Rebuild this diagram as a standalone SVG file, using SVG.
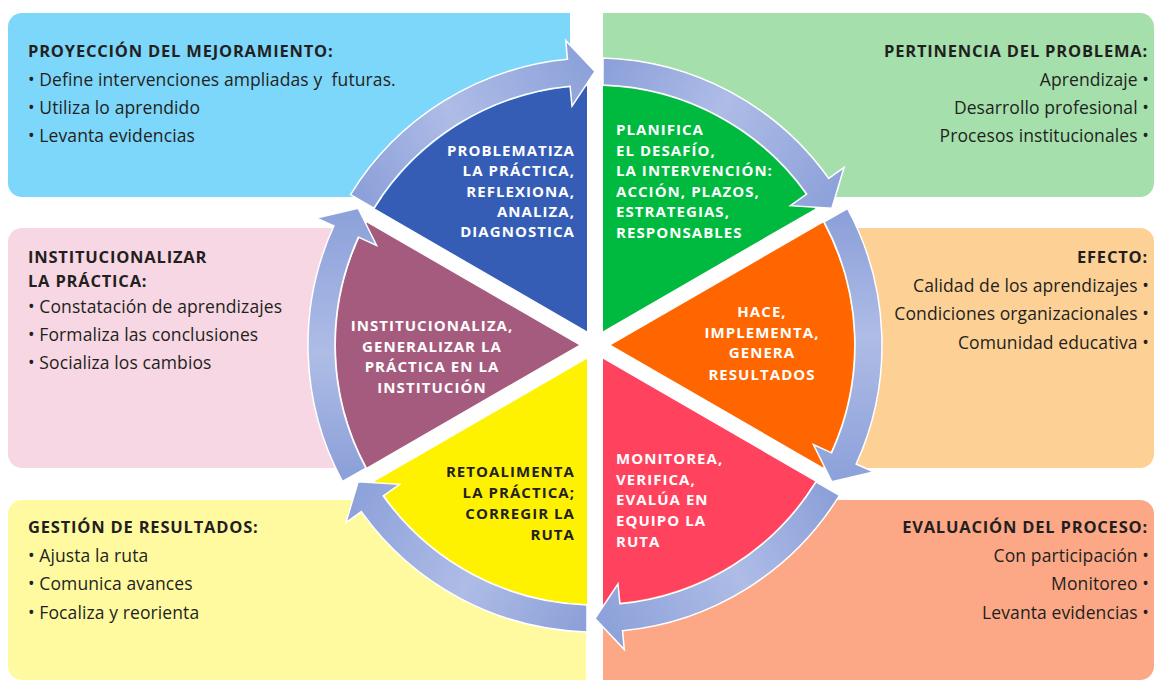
<svg xmlns="http://www.w3.org/2000/svg" xmlns:xlink="http://www.w3.org/1999/xlink" width="1156" height="682" viewBox="0 0 1156 682">
<style>
.head{font-family:"Open Sans","Noto Sans",sans-serif;font-weight:700;font-size:16.5px;fill:#231f20;letter-spacing:0.8px}
.body{font-family:"Open Sans","Noto Sans",sans-serif;font-weight:400;font-size:17.5px;fill:#231f20;letter-spacing:0.1px}
.wl{font-family:"Open Sans","Noto Sans",sans-serif;font-weight:700;font-size:15px;fill:#ffffff;letter-spacing:1.05px}
.wd{fill:#231f20}
.end{text-anchor:end}
.mid{text-anchor:middle}
.arc{fill:url(#ring);stroke:#ffffff;stroke-width:1.5;stroke-linejoin:miter}
</style>
<defs>
<linearGradient id="ring" gradientUnits="userSpaceOnUse" x1="362" y1="201" x2="595" y2="71">
<stop offset="0" stop-color="#8ca0d9"/>
<stop offset="0.45" stop-color="#aebce6"/>
<stop offset="1" stop-color="#8ca1da"/>
</linearGradient>
<path id="wedge" d="M587,331.14 L587,86.12 A259,259 0 0 0 374.79,208.62 Z"/>
<path id="arrow" d="M350.55,194.61 A287,287 0 0 1 567.49,59.32 L565.67,40.41 L595,71.5 L572,106.1 L570.08,86.2 A260,260 0 0 0 373.91,208.15 Z"/>
</defs>
<rect width="1156" height="682" fill="#ffffff"/>

<g id="box-proyeccion">
<path d="M570,13 H22 A14,14 0 0 0 8,27 V183 A14,14 0 0 0 22,197 H570 Z" fill="#7dd7fb"/>
<text class="head" x="28" y="57">PROYECCIÓN DEL MEJORAMIENTO:</text>
<text class="body" x="28" y="86">• Define intervenciones ampliadas y&#160; futuras.</text>
<text class="body" x="28" y="114">• Utiliza lo aprendido</text>
<text class="body" x="28" y="142">• Levanta evidencias</text>
</g>
<g id="box-pertinencia">
<path d="M603,13 H1140 A14,14 0 0 1 1154,27 V183 A14,14 0 0 1 1140,197 H603 Z" fill="#a4dfac"/>
<text class="head end" x="1148" y="57">PERTINENCIA DEL PROBLEMA:</text>
<text class="body end" x="1149" y="86">Aprendizaje •</text>
<text class="body end" x="1149" y="114">Desarrollo profesional •</text>
<text class="body end" x="1149" y="142">Procesos institucionales •</text>
</g>
<g id="box-institucionalizar">
<path d="M345,228 H22 A14,14 0 0 0 8,242 V454 A14,14 0 0 0 22,468 H345 Z" fill="#f7d7e3"/>
<text class="head" x="28" y="263">INSTITUCIONALIZAR</text>
<text class="head" x="28" y="287">LA PRÁCTICA:</text>
<text class="body" x="28" y="313">• Constatación de aprendizajes</text>
<text class="body" x="28" y="341">• Formaliza las conclusiones</text>
<text class="body" x="28" y="369">• Socializa los cambios</text>
</g>
<g id="box-efecto">
<path d="M840,228 H1140 A14,14 0 0 1 1154,242 V454 A14,14 0 0 1 1140,468 H840 Z" fill="#fdd196"/>
<text class="head end" x="1148" y="263">EFECTO:</text>
<text class="body end" x="1149" y="292">Calidad de los aprendizajes •</text>
<text class="body end" x="1149" y="320">Condiciones organizacionales •</text>
<text class="body end" x="1149" y="349">Comunidad educativa •</text>
</g>
<g id="box-gestion">
<path d="M586,500 H22 A14,14 0 0 0 8,514 V666 A14,14 0 0 0 22,680 H586 Z" fill="#fffaa0"/>
<text class="head" x="28" y="533">GESTIÓN DE RESULTADOS:</text>
<text class="body" x="28" y="562">• Ajusta la ruta</text>
<text class="body" x="28" y="590">• Comunica avances</text>
<text class="body" x="28" y="619">• Focaliza y reorienta</text>
</g>
<g id="box-evaluacion">
<path d="M603,500 H1140 A14,14 0 0 1 1154,514 V666 A14,14 0 0 1 1140,680 H603 Z" fill="#fca886"/>
<text class="head end" x="1148" y="533">EVALUACIÓN DEL PROCESO:</text>
<text class="body end" x="1149" y="562">Con participación •</text>
<text class="body end" x="1149" y="590">Monitoreo •</text>
<text class="body end" x="1149" y="619">Levanta evidencias •</text>
</g>

<g id="wedge-problematiza">
<use xlink:href="#wedge" href="#wedge" fill="#365db5"/>
<text class="wl end" x="575" y="156">PROBLEMATIZA</text>
<text class="wl end" x="575" y="176">LA PRÁCTICA,</text>
<text class="wl end" x="575" y="197">REFLEXIONA,</text>
<text class="wl end" x="575" y="217">ANALIZA,</text>
<text class="wl end" x="575" y="237">DIAGNOSTICA</text>
</g>
<g id="wedge-planifica">
<use xlink:href="#wedge" href="#wedge" fill="#00b93f" transform="rotate(60 595 345)"/>
<text class="wl" x="616" y="135">PLANIFICA</text>
<text class="wl" x="616" y="156">EL DESAFÍO,</text>
<text class="wl" x="616" y="176">LA INTERVENCIÓN:</text>
<text class="wl" x="616" y="197">ACCIÓN, PLAZOS,</text>
<text class="wl" x="616" y="217">ESTRATEGIAS,</text>
<text class="wl" x="616" y="238">RESPONSABLES</text>
</g>
<g id="wedge-hace">
<use xlink:href="#wedge" href="#wedge" fill="#ff6600" transform="rotate(120 595 345)"/>
<text class="wl mid" x="762" y="317">HACE,</text>
<text class="wl mid" x="762" y="338">IMPLEMENTA,</text>
<text class="wl mid" x="762" y="358">GENERA</text>
<text class="wl mid" x="762" y="380">RESULTADOS</text>
</g>
<g id="wedge-monitorea">
<use xlink:href="#wedge" href="#wedge" fill="#ff435f" transform="rotate(180 595 345)"/>
<text class="wl" x="616" y="464">MONITOREA,</text>
<text class="wl" x="616" y="485">VERIFICA,</text>
<text class="wl" x="616" y="505">EVALÚA EN</text>
<text class="wl" x="616" y="526">EQUIPO LA</text>
<text class="wl" x="616" y="547">RUTA</text>
</g>
<g id="wedge-retoalimenta">
<use xlink:href="#wedge" href="#wedge" fill="#fff200" transform="rotate(240 595 345)"/>
<text class="wl wd end" x="575" y="477">RETOALIMENTA</text>
<text class="wl wd end" x="575" y="498">LA PRÁCTICA;</text>
<text class="wl wd end" x="575" y="519">CORREGIR LA</text>
<text class="wl wd end" x="575" y="540">RUTA</text>
</g>
<g id="wedge-institucionaliza">
<use xlink:href="#wedge" href="#wedge" fill="#a55b7e" transform="rotate(300 595 345)"/>
<text class="wl mid" x="432" y="331">INSTITUCIONALIZA,</text>
<text class="wl mid" x="432" y="352">GENERALIZAR LA</text>
<text class="wl mid" x="432" y="372">PRÁCTICA EN LA</text>
<text class="wl mid" x="432" y="393">INSTITUCIÓN</text>
</g>

<g id="connectors">
<use xlink:href="#arrow" href="#arrow" class="arc"/>
<use xlink:href="#arrow" href="#arrow" class="arc" transform="rotate(60 595 345)"/>
<use xlink:href="#arrow" href="#arrow" class="arc" transform="rotate(120 595 345)"/>
<use xlink:href="#arrow" href="#arrow" class="arc" transform="rotate(180 595 345)"/>
<use xlink:href="#arrow" href="#arrow" class="arc" transform="rotate(240 595 345)"/>
<use xlink:href="#arrow" href="#arrow" class="arc" transform="rotate(300 595 345)"/>
</g>
</svg>
